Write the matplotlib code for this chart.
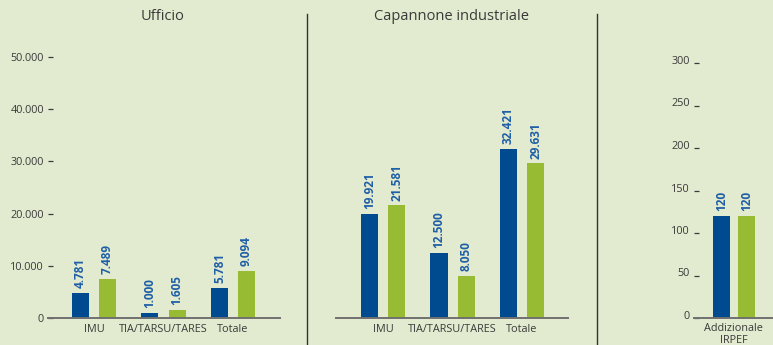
import matplotlib
matplotlib.use("Agg")
import matplotlib.pyplot as plt
from matplotlib.lines import Line2D
from matplotlib.ticker import FuncFormatter
from matplotlib.transforms import ScaledTranslation
import numpy as np

plt.rcParams['font.family'] = ['Open Sans', 'DejaVu Sans']

# costi annui (euro), prima serie blu, seconda serie verde
categorie = ['IMU', 'TIA/TARSU/TARES', 'Totale']
ufficio_blu = [4781, 1000, 5781]
ufficio_verde = [7489, 1605, 9094]
capannone_blu = [19921, 12500, 32421]
capannone_verde = [21581, 8050, 29631]
irpef_cat = ['Addizionale\nIRPEF']
irpef_blu = [120]
irpef_verde = [120]

y_ticks_euro = [0, 10000, 20000, 30000, 40000, 50000]
y_ticks_irpef = [0, 50, 100, 150, 200, 250, 300]

BG = '#e2ebcf'
BLU = '#004a8f'
VERDE = '#97bb33'
LABEL_BLU = '#1f5fa6'
TESTO = '#3a3a3a'
BASE = '#707070'

W, H = 773, 345
fig = plt.figure(figsize=(W / 100, H / 100), dpi=100, facecolor=BG)


def px_axes(x0, x1, y_base=318, top=31):
    return fig.add_axes([x0 / W, 1 - y_base / H, (x1 - x0) / W, (y_base - top) / H])


def it_fmt(v, pos=None):
    return f"{int(v):,}".replace(',', '.')


def draw_bars(ax, blu, verde, offset, width=0.245):
    x = np.arange(len(blu))
    for vals, dx, col in ((blu, -offset, BLU), (verde, offset, VERDE)):
        bars = ax.bar(x + dx, vals, width=width, color=col, zorder=2)
        for b, v in zip(bars, vals):
            ax.annotate(it_fmt(v), (b.get_x() + b.get_width() / 2, v),
                        xytext=(0, 3.5), textcoords='offset points',
                        rotation=90, ha='center', va='bottom',
                        fontsize=8.5, fontweight='bold', color=LABEL_BLU)
    return x


def style(ax):
    ax.set_facecolor('none')
    for s in ('top', 'right', 'left'):
        ax.spines[s].set_visible(False)
    ax.spines['bottom'].set_color(BASE)
    ax.spines['bottom'].set_linewidth(1.4)
    ax.tick_params(axis='x', length=0, pad=4, labelsize=7.8, labelcolor=TESTO)
    ax.tick_params(axis='y', direction='in', length=3.5, width=0.9,
                   color=TESTO, pad=3, labelsize=7.8, labelcolor=TESTO)


# Ufficio
ax1 = px_axes(48, 280)
x = draw_bars(ax1, ufficio_blu, ufficio_verde, 0.195)
ax1.set_xlim(-0.662, 2.676)
ax1.set_ylim(0, 55000)
ax1.set_xticks(x, categorie)
ax1.set_yticks(y_ticks_euro)
ax1.yaxis.set_major_formatter(FuncFormatter(it_fmt))
style(ax1)

# Capannone industriale
ax2 = px_axes(336, 568)
x = draw_bars(ax2, capannone_blu, capannone_verde, 0.195)
ax2.set_xlim(-0.676, 2.66)
ax2.set_ylim(0, 55000)
ax2.set_xticks(x, categorie)
ax2.set_yticks([])
style(ax2)

# Addizionale IRPEF
ax3 = px_axes(694, 810)
x = draw_bars(ax3, irpef_blu, irpef_verde, 0.18)
ax3.set_xlim(-0.576, 1.10)
ax3.set_ylim(0, 287 / 0.85)
ax3.set_xticks(x, irpef_cat)
ax3.set_yticks(y_ticks_irpef)
style(ax3)
ax3.tick_params(axis='x', pad=3.5)
for lab in ax3.get_xticklabels():
    lab.set_linespacing(1.2)
# etichette dell'asse y un po' sopra il trattino
shift = ScaledTranslation(0, 3 / 100, fig.dpi_scale_trans)
for lab in ax3.get_yticklabels():
    lab.set_transform(lab.get_transform() + shift)

# titoli dei pannelli
fig.text(163 / W, 1 - 17 / H, 'Ufficio', ha='center', va='center',
         fontsize=10.5, color=TESTO)
fig.text(452 / W, 1 - 17 / H, 'Capannone industriale', ha='center',
         va='center', fontsize=10.5, color=TESTO)

# separatori verticali
for xs in (307, 597):
    fig.add_artist(Line2D([xs / W, xs / W], [1 - 14 / H, 0],
                          transform=fig.transFigure, color='#333333', lw=1.0))

fig.savefig('out.png', dpi=100, facecolor=BG)
